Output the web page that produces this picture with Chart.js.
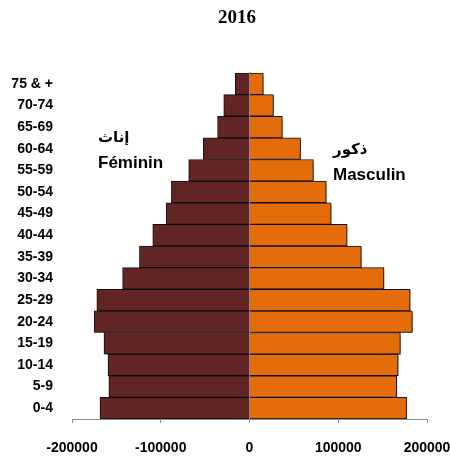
<!DOCTYPE html>
<html lang="fr">
<head>
  <meta charset="UTF-8">
  <title>Pyramide des âges 2016</title>
  <style>
    html, body { margin: 0; padding: 0; background: #ffffff; }
    .chart-container { width: 450px; height: 457px; position: relative; }
  </style>
</head>
<body>
  <div class="chart-container">
    <canvas id="pyramidChart"></canvas>
  </div>

  <script src="https://cdn.jsdelivr.net/npm/chart.js"></script>
  <script>
    // Age groups, bottom to top
    const ageGroups = ['0-4', '5-9', '10-14', '15-19', '20-24', '25-29', '30-34', '35-39',
                       '40-44', '45-49', '50-54', '55-59', '60-64', '65-69', '70-74', '75 & +'];
    // Females (إناث) - drawn on the left as negative values
    const female = [168500, 158500, 159500, 164000, 175000, 172000, 143000, 124000,
                    109000, 94000, 88000, 68500, 52000, 36000, 29000, 16000];
    // Males (ذكور)
    const male = [177000, 166000, 167500, 170000, 183500, 181000, 151500, 126000,
                  110000, 92000, 86500, 72000, 57500, 37000, 27000, 15500];
    const xTicks = [-200000, -100000, 0, 100000, 200000];

    const labelFont = { family: 'Arial, "Liberation Sans", sans-serif', size: 14, weight: 'bold' };

    // title + the side captions, written straight on the canvas
    const captions = {
      id: 'captions',
      afterDraw(chart) {
        const c = chart.ctx;
        c.save();
        c.fillStyle = '#000';
        c.textAlign = 'center';
        c.textBaseline = 'middle';
        c.font = 'bold 19px "Liberation Serif", "Times New Roman", serif';
        c.fillText('2016', 237, 18);
        c.textAlign = 'left';
        c.textBaseline = 'alphabetic';
        c.font = 'bold 15px "DejaVu Sans", sans-serif';
        c.fillText('إناث', 98, 142);
        c.fillText('ذكور', 333, 154);
        c.font = 'bold 17px Arial, "Liberation Sans", sans-serif';
        c.fillText('Féminin', 98, 168);
        c.fillText('Masculin', 333, 180);
        c.restore();
      }
    };

    // light drop shadow under the bars
    const barShadow = {
      id: 'barShadow',
      beforeDatasetsDraw(chart) {
        const c = chart.ctx;
        c.save();
        c.shadowColor = 'rgba(0, 0, 0, 0.35)';
        c.shadowOffsetX = 1.5;
        c.shadowOffsetY = 1.5;
        c.shadowBlur = 1;
      },
      afterDatasetsDraw(chart) {
        chart.ctx.restore();
      }
    };

    const ctx = document.getElementById('pyramidChart').getContext('2d');
    const chart = new Chart(ctx, {
      type: 'bar',
      data: {
        labels: ageGroups,
        datasets: [{
          label: 'Féminin',
          data: female.map(v => -v),
          backgroundColor: '#632523',
          borderColor: '#111111',
          borderWidth: 1,
          barPercentage: 1,
          categoryPercentage: 1
        }, {
          label: 'Masculin',
          data: male,
          backgroundColor: '#E46C0A',
          borderColor: '#111111',
          borderWidth: 1,
          barPercentage: 1,
          categoryPercentage: 1
        }]
      },
      options: {
        indexAxis: 'y',
        responsive: true,
        maintainAspectRatio: false,
        animation: false,
        layout: { padding: { top: 73, right: 2, bottom: 0, left: 0 } },
        scales: {
          x: {
            type: 'linear',
            stacked: true,
            min: -200000,
            max: 200000,
            afterBuildTicks(scale) { scale.ticks = xTicks.map(v => ({ value: v })); },
            afterFit(scale) {
              scale.height = 38;
              scale.paddingRight = 23;
            },
            grid: { drawOnChartArea: false, drawTicks: true, tickLength: 4, color: '#8c8c8c' },
            border: { display: true, color: '#8c8c8c' },
            ticks: {
              padding: 17,
              color: '#000',
              font: labelFont,
              callback: v => String(v)
            }
          },
          y: {
            type: 'category',
            stacked: true,
            reverse: true,
            afterFit(scale) { scale.width = 72; },
            grid: { display: false, drawTicks: false },
            border: { display: false },
            ticks: { padding: 19, color: '#000', font: labelFont }
          },
          yMid: {
            type: 'category',
            axis: 'y',
            position: { x: 0 },
            reverse: true,
            display: true,
            z: 1,
            grid: { display: false },
            border: { display: true, color: '#8c8c8c', width: 1.5 },
            ticks: { display: false }
          }
        },
        plugins: {
          legend: { display: false },
          title: { display: false },
          tooltip: { enabled: false }
        }
      },
      plugins: [barShadow, captions]
    });
  </script>
</body>
</html>
